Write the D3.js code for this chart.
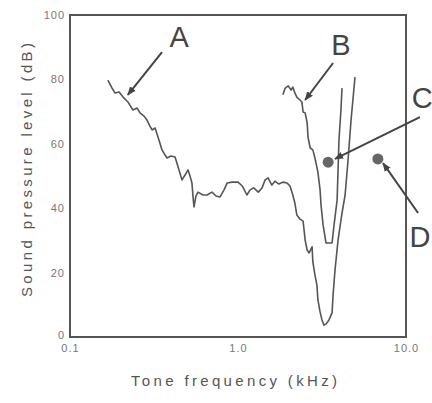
<!DOCTYPE html>
<html>
<head>
<meta charset="utf-8">
<script src="https://cdn.jsdelivr.net/npm/d3@7"></script>
<style>
  body { margin: 0; background: #fff; }
  svg { display: block; font-family: "Liberation Sans", Arial, sans-serif; }
</style>
</head>
<body>
<div id="chart"></div>
<script>
// Threshold curve A (kHz, dB)
const curveAFreq = [0.168, 0.178, 0.185, 0.196, 0.207, 0.221, 0.237, 0.251, 0.261, 0.276, 0.287, 0.299, 0.308, 0.321, 0.334, 0.353, 0.368, 0.378, 0.399, 0.422, 0.440, 0.464, 0.484, 0.504, 0.518, 0.532, 0.540, 0.547, 0.562, 0.578, 0.619, 0.654, 0.700, 0.740, 0.782, 0.826, 0.861, 0.921, 1.0, 1.06, 1.13, 1.18, 1.24, 1.32, 1.39, 1.45, 1.51, 1.59, 1.66, 1.75, 1.85, 1.96, 2.04, 2.12, 2.18, 2.24, 2.34, 2.44, 2.51, 2.58, 2.65, 2.76, 2.79, 2.87, 2.95, 2.99, 3.08, 3.16, 3.25, 3.34, 3.48, 3.63, 3.68, 3.78, 3.94, 4.16, 4.34, 4.52, 4.71, 4.97];
const curveADb = [79.8, 77.3, 75.8, 76.1, 74.5, 73.0, 70.5, 71.1, 69.6, 68.6, 67.4, 65.5, 64.3, 64.9, 62.1, 58.1, 56.5, 55.6, 56.2, 55.9, 52.8, 48.8, 50.3, 51.9, 50.0, 47.8, 43.5, 40.4, 43.8, 45.0, 44.1, 44.1, 45.0, 43.8, 43.5, 45.7, 47.8, 48.1, 48.1, 46.9, 44.1, 45.7, 46.3, 45.0, 46.3, 48.8, 49.4, 47.2, 48.4, 47.5, 48.1, 47.8, 46.9, 44.1, 41.6, 37.9, 36.6, 36.0, 30.1, 27.0, 26.1, 28.0, 23.3, 19.3, 16.1, 11.5, 7.8, 5.3, 3.7, 4.0, 5.3, 7.5, 13.0, 20.8, 30.1, 38.5, 44.1, 55.0, 67.4, 80.7];

// Curve B
const curveBFreq = [1.85, 1.91, 1.99, 2.07, 2.12, 2.18, 2.24, 2.34, 2.40, 2.44, 2.51, 2.58, 2.61, 2.69, 2.79, 2.87, 2.99, 3.08, 3.12, 3.21, 3.34, 3.48, 3.63, 3.73, 3.89, 3.94, 3.99, 4.10, 4.16];
const curveBDb = [75.2, 77.3, 78.0, 76.7, 77.6, 75.8, 74.5, 73.6, 73.0, 69.9, 69.6, 66.5, 62.1, 58.7, 58.1, 55.6, 51.2, 45.7, 41.0, 34.8, 29.2, 29.2, 29.2, 34.8, 42.5, 51.9, 61.2, 70.5, 77.3];

// Single tones C and D
const dotNames = ["C", "D"];
const dotFreq = [3.44, 6.8];
const dotDb = [54.3, 55.3];

// Letter labels with arrows: label pos, arrow tail, arrow tip
const noteNames = ["A", "B", "C", "D"];
const noteFreq = [0.446, 4.10, 12.5, 12.1];
const noteDb = [90.1, 87.6, 71.1, 28.0];
const tailFreq = [0.353, 3.68, 12.1, 11.8];
const tailDb = [88.5, 85.1, 68.3, 38.5];
const tipFreq = [0.221, 2.51, 3.78, 7.30];
const tipDb = [75.2, 73.6, 55.3, 54.0];

const xTicks = [0.1, 1, 10];
const yTicks = [0, 20, 40, 60, 80, 100];

const W = 432, H = 403;
const ink = "#555";

const svg = d3.select("#chart").append("svg")
  .attr("width", W)
  .attr("height", H);

const x = d3.scaleLog().domain([0.1, 10]).range([70, 406]);
const y = d3.scaleLinear().domain([0, 100]).range([337, 15]);

svg.append("defs").append("marker")
  .attr("id", "head")
  .attr("viewBox", "0 0 10 10")
  .attr("refX", 9).attr("refY", 5)
  .attr("markerWidth", 9).attr("markerHeight", 9)
  .attr("markerUnits", "userSpaceOnUse")
  .attr("orient", "auto")
  .append("path")
  .attr("d", "M0,1 L10,5 L0,9 Z")
  .attr("fill", "#444");

// axes (no tick marks, labels only)
const xAxis = svg.append("g")
  .attr("transform", `translate(0,${y(0)})`)
  .call(d3.axisBottom(x).tickValues(xTicks).tickFormat(d3.format(".1f")).tickSize(0).tickPadding(7));
const yAxis = svg.append("g")
  .attr("transform", `translate(${x(0.1)},0)`)
  .call(d3.axisLeft(y).tickValues(yTicks).tickSize(0).tickPadding(5));
[xAxis, yAxis].forEach((g) => {
  g.select(".domain").remove();
  g.selectAll("text")
    .attr("fill", "#777")
    .style("font-size", "11px")
    .style("letter-spacing", "1px");
});
// lift the "0" a touch so it clears the "0.1" below it
yAxis.selectAll(".tick text").filter((d) => d === 0).attr("dy", "0.1em");

// frame
svg.append("rect")
  .attr("x", x(0.1)).attr("y", y(100))
  .attr("width", x(10) - x(0.1))
  .attr("height", y(0) - y(100))
  .attr("fill", "none")
  .attr("stroke", ink)
  .attr("stroke-width", 2);

// axis titles
svg.append("text")
  .attr("x", 234).attr("y", 386)
  .attr("text-anchor", "middle")
  .attr("fill", ink)
  .style("font-size", "15px")
  .attr("textLength", 206)
  .attr("lengthAdjust", "spacing")
  .text("Tone frequency (kHz)");

svg.append("text")
  .attr("transform", "translate(32,170) rotate(-90)")
  .attr("text-anchor", "middle")
  .attr("fill", ink)
  .style("font-size", "15px")
  .attr("textLength", 254)
  .attr("lengthAdjust", "spacing")
  .text("Sound pressure level (dB)");

// curves
const line = d3.line().x((d) => x(d[0])).y((d) => y(d[1]));
const curves = [d3.zip(curveAFreq, curveADb), d3.zip(curveBFreq, curveBDb)];
svg.append("g")
  .selectAll("path")
  .data(curves)
  .join("path")
  .attr("d", line)
  .attr("fill", "none")
  .attr("stroke", ink)
  .attr("stroke-width", 1.6)
  .attr("stroke-linejoin", "round");

// dots
svg.append("g")
  .selectAll("circle")
  .data(dotNames)
  .join("circle")
  .attr("cx", (d, i) => x(dotFreq[i]))
  .attr("cy", (d, i) => y(dotDb[i]))
  .attr("r", 5.5)
  .attr("fill", "#666");

// arrows
svg.append("g")
  .selectAll("line")
  .data(noteNames)
  .join("line")
  .attr("x1", (d, i) => x(tailFreq[i]))
  .attr("y1", (d, i) => y(tailDb[i]))
  .attr("x2", (d, i) => x(tipFreq[i]))
  .attr("y2", (d, i) => y(tipDb[i]))
  .attr("stroke", "#444")
  .attr("stroke-width", 2)
  .attr("marker-end", "url(#head)");

svg.append("g")
  .selectAll("text")
  .data(noteNames)
  .join("text")
  .attr("x", (d, i) => x(noteFreq[i]))
  .attr("y", (d, i) => y(noteDb[i]))
  .attr("text-anchor", "middle")
  .attr("fill", "#444")
  .style("font-size", "29px")
  .text((d) => d);
</script>
</body>
</html>
